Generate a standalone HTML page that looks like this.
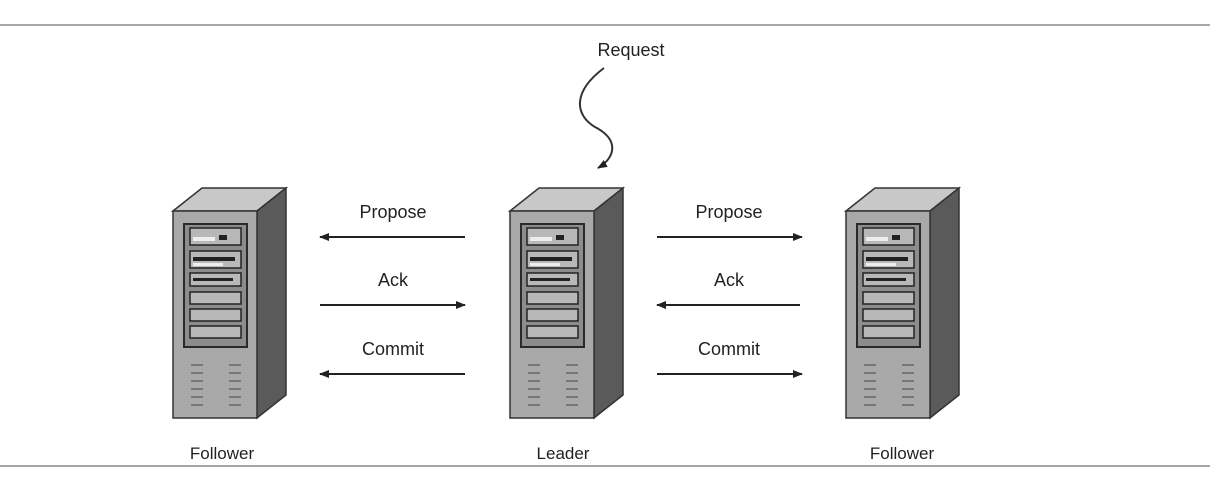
<!DOCTYPE html>
<html><head><meta charset="utf-8"><style>
html,body{margin:0;padding:0;background:#fff;}
svg{display:block;}
text{font-family:"Liberation Sans",Arial,sans-serif;font-size:18px;fill:#222;}
</style></head><body>
<svg width="1210" height="494" viewBox="0 0 1210 494">
<defs>
<marker id="ah" markerWidth="10" markerHeight="10" refX="9" refY="5" orient="auto" markerUnits="userSpaceOnUse">
<path d="M0,1 L10,5 L0,9 Z" fill="#222"/></marker>
<g id="srv">
<polygon points="0,24 29,1 113,1 84,24" fill="#c8c8c8" stroke="#333" stroke-width="1.5"/>
<polygon points="84,24 113,1 113,208 84,231" fill="#5a5a5a" stroke="#333" stroke-width="1.5"/>
<rect x="0" y="24" width="84" height="207" fill="#a9a9a9" stroke="#333" stroke-width="1.5"/>
<rect x="11" y="37" width="63" height="123" fill="#8c8c8c" stroke="#2a2a2a" stroke-width="2"/>
<rect x="17" y="41" width="51" height="17" fill="#b8b8b8" stroke="#222" stroke-width="1.5"/>
<rect x="20" y="50" width="22" height="4" fill="#eee"/><rect x="46" y="48" width="8" height="5" fill="#222"/>
<rect x="17" y="64" width="51" height="17" fill="#b8b8b8" stroke="#222" stroke-width="1.5"/>
<rect x="20" y="70" width="42" height="4" fill="#222"/><rect x="20" y="76" width="30" height="3" fill="#eee"/>
<rect x="17" y="86" width="51" height="13" fill="#b8b8b8" stroke="#222" stroke-width="1.5"/>
<rect x="20" y="91" width="40" height="3" fill="#222"/>
<rect x="17" y="105" width="51" height="12" fill="#b8b8b8" stroke="#222" stroke-width="1.5"/>
<rect x="17" y="122" width="51" height="12" fill="#b8b8b8" stroke="#222" stroke-width="1.5"/>
<rect x="17" y="139" width="51" height="12" fill="#b8b8b8" stroke="#222" stroke-width="1.5"/>
<g stroke="#777" stroke-width="2">
<line x1="18" y1="178" x2="30" y2="178"/><line x1="56" y1="178" x2="68" y2="178"/>
<line x1="18" y1="186" x2="30" y2="186"/><line x1="56" y1="186" x2="68" y2="186"/>
<line x1="18" y1="194" x2="30" y2="194"/><line x1="56" y1="194" x2="68" y2="194"/>
<line x1="18" y1="202" x2="30" y2="202"/><line x1="56" y1="202" x2="68" y2="202"/>
<line x1="18" y1="210" x2="30" y2="210"/><line x1="56" y1="210" x2="68" y2="210"/>
<line x1="18" y1="218" x2="30" y2="218"/><line x1="56" y1="218" x2="68" y2="218"/>
</g>
</g>
</defs>
<line x1="0" y1="25" x2="1210" y2="25" stroke="#888" stroke-width="1.5"/>
<line x1="0" y1="466" x2="1210" y2="466" stroke="#888" stroke-width="1.5"/>
<use href="#srv" x="173" y="187"/>
<use href="#srv" x="510" y="187"/>
<use href="#srv" x="846" y="187"/>
<text x="631" y="56" text-anchor="middle">Request</text>
<path d="M604,68 C572,92 575,115 595,127 C620,140 615,158 598,168" fill="none" stroke="#333" stroke-width="2" marker-end="url(#ah)"/>
<g stroke="#222" stroke-width="2">
<line x1="465" y1="237" x2="320" y2="237" marker-end="url(#ah)"/>
<line x1="320" y1="305" x2="465" y2="305" marker-end="url(#ah)"/>
<line x1="465" y1="374" x2="320" y2="374" marker-end="url(#ah)"/>
<line x1="657" y1="237" x2="802" y2="237" marker-end="url(#ah)"/>
<line x1="800" y1="305" x2="657" y2="305" marker-end="url(#ah)"/>
<line x1="657" y1="374" x2="802" y2="374" marker-end="url(#ah)"/>
</g>
<text x="393" y="218" text-anchor="middle">Propose</text>
<text x="393" y="286" text-anchor="middle">Ack</text>
<text x="393" y="355" text-anchor="middle">Commit</text>
<text x="729" y="218" text-anchor="middle">Propose</text>
<text x="729" y="286" text-anchor="middle">Ack</text>
<text x="729" y="355" text-anchor="middle">Commit</text>
<text x="222" y="459" text-anchor="middle" style="font-size:17px">Follower</text>
<text x="563" y="459" text-anchor="middle" style="font-size:17px">Leader</text>
<text x="902" y="459" text-anchor="middle" style="font-size:17px">Follower</text>
</svg>
</body></html>
